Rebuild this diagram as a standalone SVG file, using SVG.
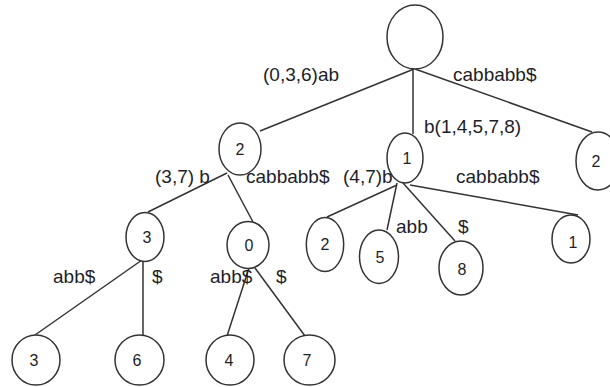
<svg xmlns="http://www.w3.org/2000/svg" width="610" height="387" viewBox="0 0 610 387">
<style>
.n{fill:#fff;stroke:#333;stroke-width:1.5}
.e{stroke:#333;stroke-width:1.5;fill:none}
.t{font-family:"Liberation Sans",Arial,sans-serif;font-size:16px;fill:#1e1e28;text-anchor:middle}
.l{font-family:"Liberation Sans",Arial,sans-serif;font-size:19px;fill:#1e1e28}
</style>
<rect width="610" height="387" fill="#fff"/>
<g id="edges">
<line class="e" x1="414" y1="69" x2="260" y2="131"/>
<line class="e" x1="413" y1="69" x2="413" y2="134"/>
<line class="e" x1="415" y1="69" x2="592" y2="132"/>
<line class="e" x1="227" y1="173" x2="148" y2="212"/>
<line class="e" x1="228" y1="175" x2="253" y2="222"/>
<line class="e" x1="397" y1="185" x2="327" y2="217"/>
<line class="e" x1="397" y1="183" x2="387" y2="230"/>
<line class="e" x1="403" y1="183" x2="455" y2="241"/>
<line class="e" x1="410" y1="185" x2="578" y2="215"/>
<line class="e" x1="142" y1="260" x2="35" y2="335"/>
<line class="e" x1="143" y1="260" x2="143" y2="336"/>
<line class="e" x1="249" y1="268" x2="227" y2="336"/>
<line class="e" x1="255" y1="268" x2="305" y2="336"/>
</g>
<g id="root"><ellipse class="n" cx="415" cy="37" rx="28" ry="32"/></g>
<g id="n2a"><ellipse class="n" cx="240" cy="149" rx="21" ry="26"/><text class="t" x="240" y="155">2</text></g>
<g id="n1a"><ellipse class="n" cx="405" cy="158" rx="18" ry="25"/><text class="t" x="407" y="164">1</text></g>
<g id="n2b"><ellipse class="n" cx="598" cy="161" rx="22" ry="29"/><text class="t" x="596" y="167">2</text></g>
<g id="n3a"><ellipse class="n" cx="145" cy="237" rx="19" ry="24.5"/><text class="t" x="147" y="243">3</text></g>
<g id="n0"><ellipse class="n" cx="248" cy="245" rx="21" ry="23.5"/><text class="t" x="249" y="251">0</text></g>
<g id="n2c"><ellipse class="n" cx="325" cy="244.5" rx="18.7" ry="27"/><text class="t" x="325" y="250">2</text></g>
<g id="n5"><ellipse class="n" cx="379" cy="256.7" rx="19.5" ry="26.7"/><text class="t" x="380" y="263">5</text></g>
<g id="n8"><ellipse class="n" cx="461" cy="268" rx="22" ry="27"/><text class="t" x="462" y="275">8</text></g>
<g id="n1b"><ellipse class="n" cx="571" cy="239" rx="19" ry="24"/><text class="t" x="573" y="248">1</text></g>
<g id="n3b"><ellipse class="n" cx="36" cy="360" rx="24" ry="25"/><text class="t" x="34" y="366">3</text></g>
<g id="n6"><ellipse class="n" cx="139.5" cy="360" rx="24.5" ry="25"/><text class="t" x="137" y="366">6</text></g>
<g id="n4"><ellipse class="n" cx="230" cy="360" rx="24" ry="25"/><text class="t" x="229" y="366">4</text></g>
<g id="n7"><ellipse class="n" cx="309.5" cy="360" rx="25.5" ry="25"/><text class="t" x="307" y="366">7</text></g>
<g id="labels">
<text class="l" x="263" y="81">(0,3,6)ab</text>
<text class="l" x="453" y="81">cabbabb$</text>
<text class="l" x="424" y="133">b(1,4,5,7,8)</text>
<text class="l" x="155" y="183">(3,7) b</text>
<text class="l" x="246" y="183">cabbabb$</text>
<text class="l" x="343" y="183">(4,7)b</text>
<text class="l" x="456" y="183">cabbabb$</text>
<text class="l" x="396" y="233">abb</text>
<text class="l" x="458" y="233">$</text>
<text class="l" x="53" y="283">abb$</text>
<text class="l" x="152" y="283">$</text>
<text class="l" x="210" y="283">abb$</text>
<text class="l" x="276" y="283">$</text>
</g>
</svg>
